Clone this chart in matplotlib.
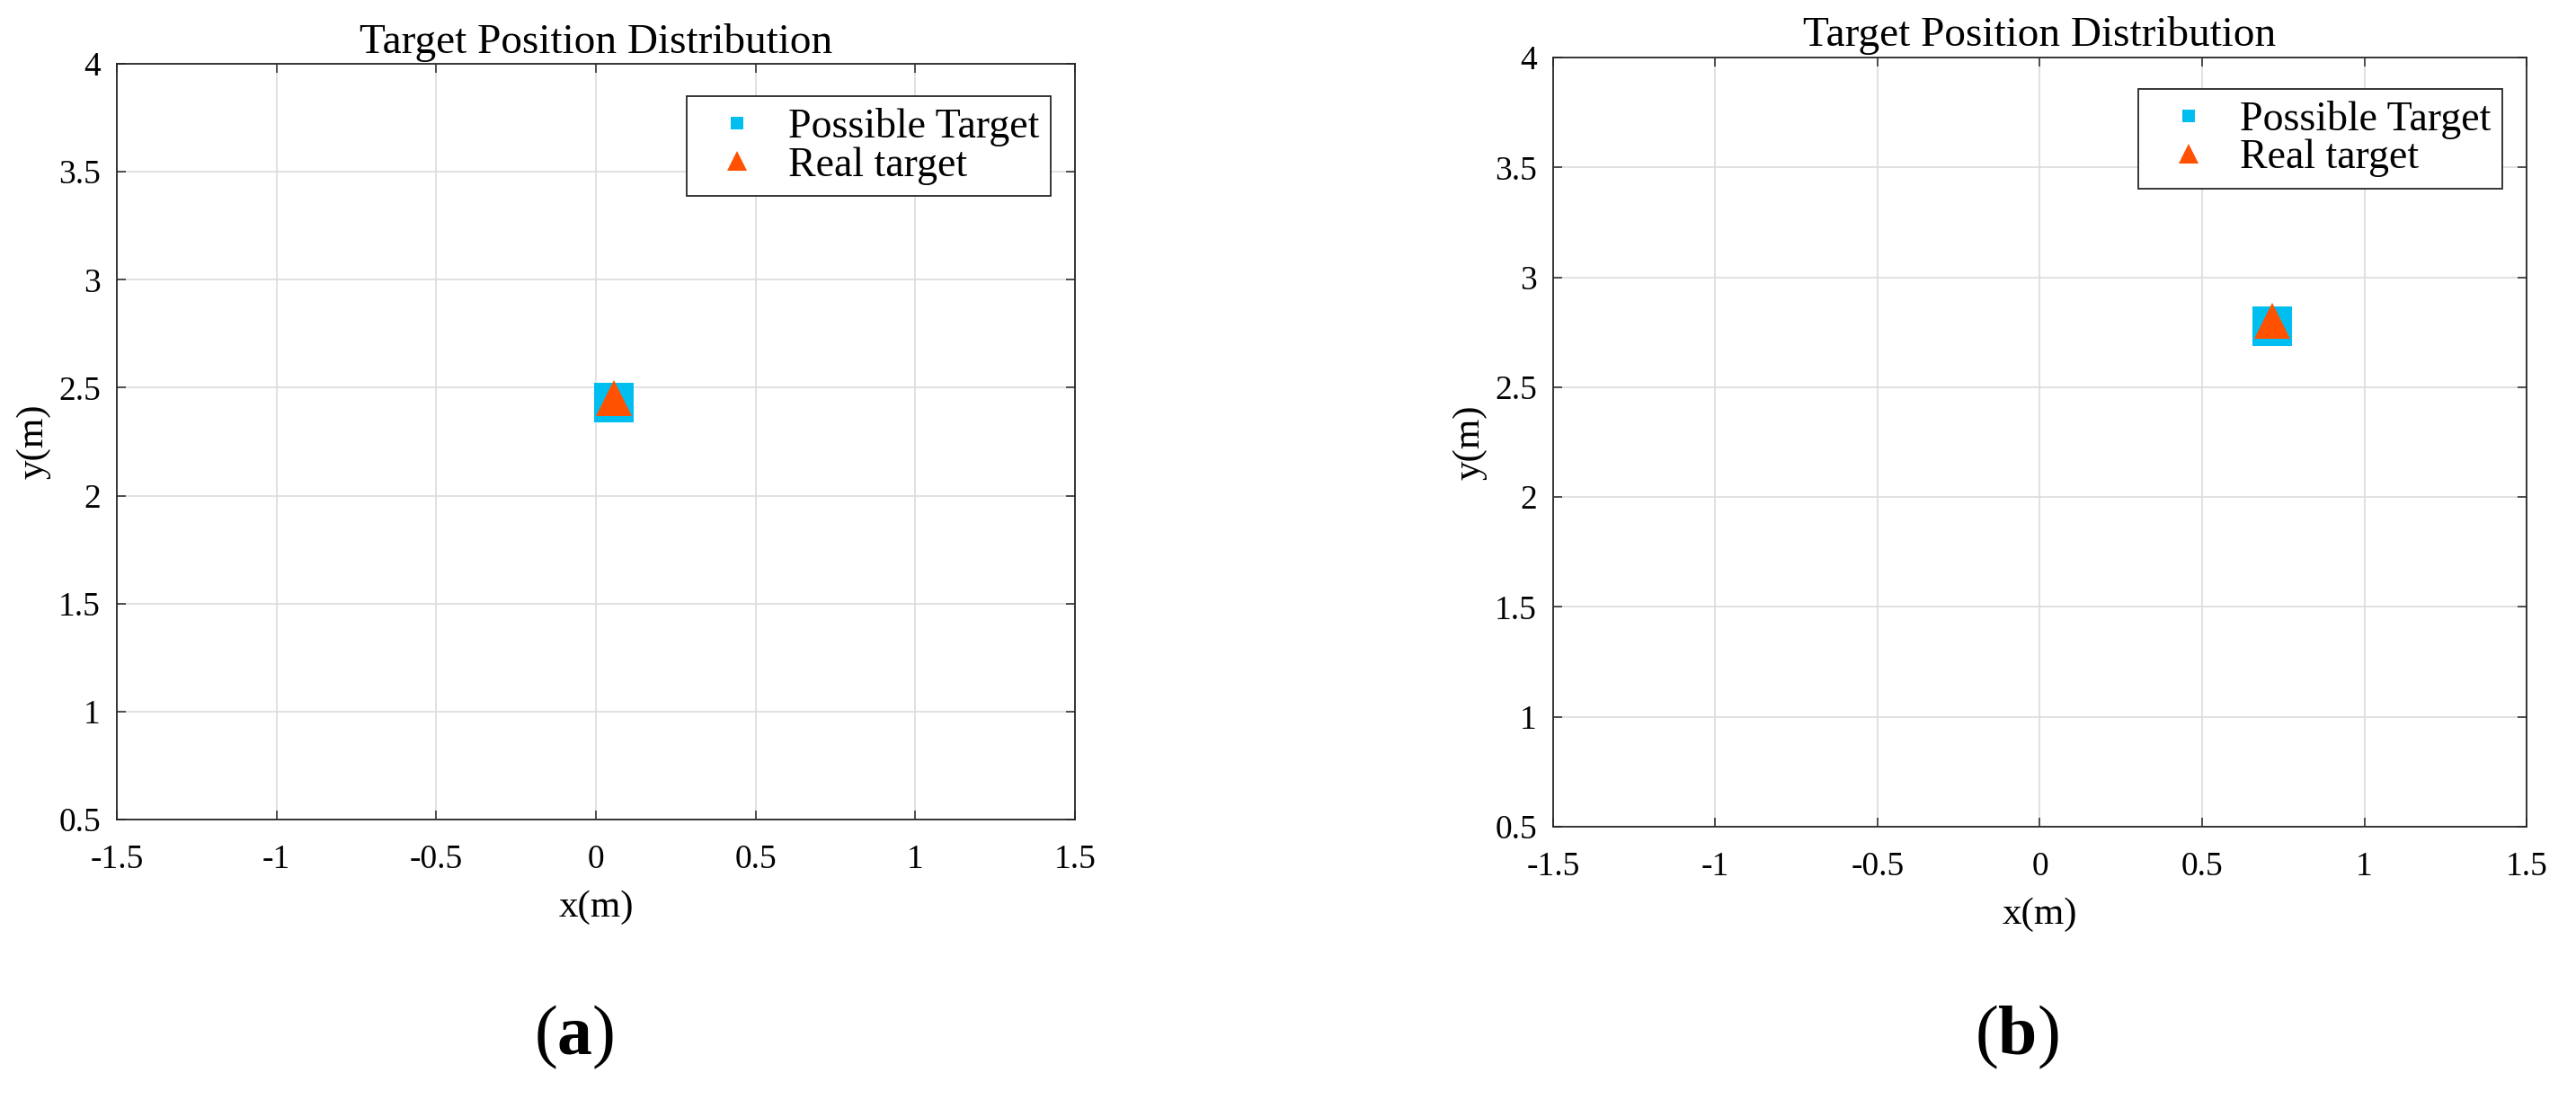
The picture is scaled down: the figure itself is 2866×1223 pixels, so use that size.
import matplotlib
matplotlib.use("Agg")
import matplotlib.pyplot as plt
from matplotlib.lines import Line2D

plt.rcParams['font.family'] = ['Liberation Serif', 'DejaVu Serif']
plt.rcParams['mathtext.fontset'] = 'custom'
plt.rcParams['mathtext.rm'] = 'Liberation Serif'
plt.rcParams['mathtext.bf'] = 'Liberation Serif:bold'

# data
possible_a_x = [0.055]
possible_a_y = [2.43]
real_a_x = [0.055]
real_a_y = [2.45]

possible_b_x = [0.717]
possible_b_y = [2.776]
real_b_x = [0.717]
real_b_y = [2.80]

xticks = [-1.5, -1, -0.5, 0, 0.5, 1, 1.5]
yticks = [0.5, 1, 1.5, 2, 2.5, 3, 3.5, 4]
xtick_labels = ['-1.5', '-1', '-0.5', '0', '0.5', '1', '1.5']
ytick_labels = ['0.5', '1', '1.5', '2', '2.5', '3', '3.5', '4']

CYAN = '#00BFF0'
ORANGE = '#FF5100'

fig = plt.figure(figsize=(28.66, 12.23), dpi=100)
ax_a = fig.add_axes([0.04536, 0.25429, 0.37195, 0.68765])
ax_b = fig.add_axes([0.60293, 0.24775, 0.37788, 0.69992])


def setup(ax, px, py, rx, ry, anchor):
    ax.plot(px, py, linestyle='none', marker='s', markersize=31,
            color=CYAN, markeredgewidth=0, zorder=3)
    ax.plot(rx, ry, linestyle='none', marker='^', markersize=29.5,
            color=ORANGE, markeredgewidth=0, zorder=4)
    ax.set_xlim(-1.5, 1.5)
    ax.set_ylim(0.5, 4)
    ax.set_xticks(xticks)
    ax.set_xticklabels(xtick_labels)
    ax.set_yticks(yticks)
    ax.set_yticklabels(ytick_labels)
    ax.grid(True, color='#DCDCDC', linewidth=1.2)
    ax.set_axisbelow(True)
    ax.tick_params(direction='in', length=7, width=1.1, color='#262626',
                   top=True, right=True, labelsize=27)
    ax.tick_params(axis='x', pad=20)
    ax.tick_params(axis='y', pad=13)
    for s in ax.spines.values():
        s.set_color('#262626')
        s.set_linewidth(1.3)
    ax.set_title('Target Position Distribution', fontsize=34, pad=9)
    ax.set_xlabel('x(m)', fontsize=31, labelpad=12)
    ax.set_ylabel('y(m)', fontsize=31, labelpad=6)

    handles = [
        Line2D([], [], linestyle='none', marker='s', markersize=10,
               color=CYAN, markeredgewidth=0),
        Line2D([], [], linestyle='none', marker='^', markersize=16,
               color=ORANGE, markeredgewidth=0),
    ]
    leg = ax.legend(handles, ['Possible Target', 'Real target'],
                    loc='upper right', bbox_to_anchor=anchor,
                    borderaxespad=0, fontsize=33, frameon=True,
                    fancybox=False, framealpha=1, edgecolor='#262626',
                    handlelength=1.88, handletextpad=0.3, borderpad=0.28,
                    labelspacing=0.0)
    leg.get_frame().set_linewidth(1.3)


setup(ax_a, possible_a_x, possible_a_y, real_a_x, real_a_y, (0.9747, 0.957))
setup(ax_b, possible_b_x, possible_b_y, real_b_x, real_b_y, (0.975, 0.959))

fig.text(0.223, 0.056, r'$\mathrm{(}\mathbf{a}\mathrm{)}$', fontsize=56,
         ha='center', va='center')
fig.text(0.783, 0.056, r'$\mathrm{(}\mathbf{b}\mathrm{)}$', fontsize=56,
         ha='center', va='center')

fig.savefig('out.png', dpi=100)
